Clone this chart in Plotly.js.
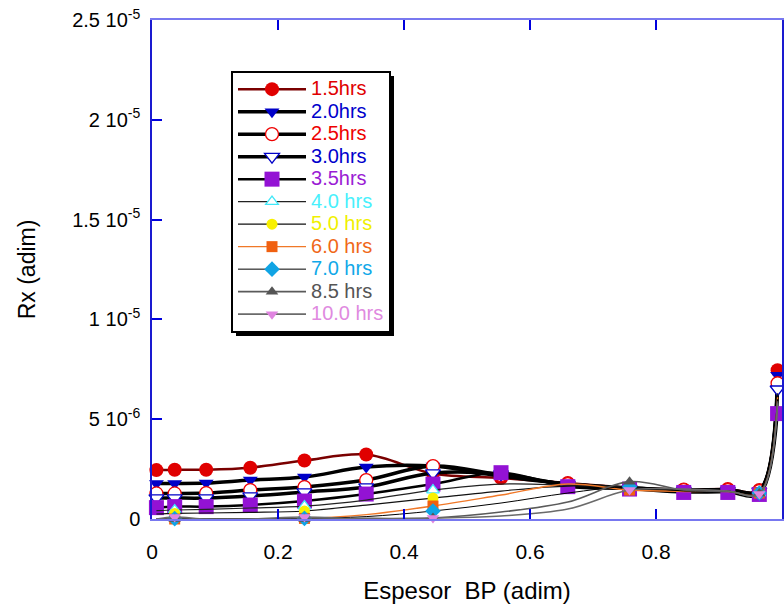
<!DOCTYPE html>
<html>
<head>
<meta charset="utf-8">
<script src="https://cdn.plot.ly/plotly-3.0.1.min.js"></script>
<style>
  html, body { margin: 0; padding: 0; background: #ffffff; }
  #chart { width: 784px; height: 609px; }
</style>
</head>
<body>
<div id="chart"></div>
<script>
// Dimensionless position across the BP layer (collocation nodes)
const espesor = [0.007, 0.036, 0.086, 0.156, 0.242, 0.340, 0.446, 0.554, 0.660, 0.758, 0.844, 0.914, 0.964, 0.993];

// Rx profiles at each time, in units of 1e-6
const rx_1_5h  = [2.45, 2.47, 2.47, 2.57, 2.93, 3.23, 2.28, 2.05, 1.80, 1.57, 1.48, 1.50, 1.45, 7.45];
const rx_2_0h  = [1.78, 1.78, 1.80, 1.95, 2.10, 2.60, 2.65, 2.15, 1.75, 1.55, 1.45, 1.48, 1.43, 7.20];
const rx_2_5h  = [1.28, 1.28, 1.30, 1.45, 1.60, 1.95, 2.65, 2.20, 1.75, 1.55, 1.45, 1.45, 1.40, 6.80];
const rx_3_0h  = [1.05, 1.05, 1.05, 1.15, 1.35, 1.60, 2.30, 2.25, 1.72, 1.52, 1.42, 1.42, 1.38, 6.50];
const rx_3_5h  = [0.57, 0.62, 0.62, 0.70, 0.90, 1.25, 1.75, 2.32, 1.62, 1.50, 1.33, 1.33, 1.23, 5.28];
const rx_4_0h  = [0.42, 0.45, 0.48, 0.55, 0.65, 0.95, 1.45, 1.75, 1.70, 1.60, 1.42, 1.40, 1.30, 6.30];
const rx_5_0h  = [0.25, 0.28, 0.30, 0.33, 0.40, 0.70, 1.05, 1.40, 1.65, 1.55, 1.40, 1.40, 1.30, 6.20];
const rx_6_0h  = [0.00, 0.00, 0.01, 0.02, 0.03, 0.22, 0.65, 1.20, 1.75, 1.45, 1.38, 1.38, 1.30, 6.10];
const rx_7_0h  = [0.00, 0.02, 0.02, 0.02, 0.03, 0.12, 0.40, 0.80, 1.30, 1.62, 1.40, 1.38, 1.30, 6.00];
const rx_8_5h  = [0.00, 0.00, 0.00, 0.00, 0.00, 0.03, 0.05, 0.35, 0.85, 1.87, 1.45, 1.38, 1.28, 5.90];
const rx_10_0h = [0.00, 0.10, 0.00, 0.00, 0.10, 0.00, 0.05, 0.15, 0.50, 1.45, 1.50, 1.40, 1.25, 5.80];

const seriesLabels = ['1.5hrs', '2.0hrs', '2.5hrs', '3.0hrs', '3.5hrs',
                      '4.0 hrs', '5.0 hrs', '6.0 hrs', '7.0 hrs', '8.5 hrs', '10.0 hrs'];

const yTickVals = [0, 5e-6, 1e-5, 1.5e-5, 2e-5, 2.5e-5];
const yTickText = ['0', '5 10<sup>-6</sup>', '1 10<sup>-5</sup>', '1.5 10<sup>-5</sup>',
                   '2 10<sup>-5</sup>', '2.5 10<sup>-5</sup>'];

const UNIT = 1e-6;
const FONT = 'Liberation Sans, Arial, sans-serif';

// Appearance of each series (line, marker, legend text colour)
const styles = [
  { line: '#7a0000', lw: 2.5, sym: 'circle',        mc: '#e00000', fill: '#e00000', ms: 14, text: '#e00000' },
  { line: '#000000', lw: 3.5, sym: 'triangle-down', mc: '#0000c8', fill: '#0000c8', ms: 13, text: '#0000cc' },
  { line: '#000000', lw: 3.5, sym: 'circle',        mc: '#ee0000', fill: '#ffffff', ms: 13, text: '#ee0000' },
  { line: '#000000', lw: 3.5, sym: 'triangle-down', mc: '#0000c8', fill: '#ffffff', ms: 13, text: '#0000cc' },
  { line: '#000000', lw: 2.5, sym: 'square',        mc: '#9312d4', fill: '#9312d4', ms: 15, text: '#9a1cd4' },
  { line: '#222222', lw: 1.2, sym: 'triangle-up',   mc: '#40e8f8', fill: '#ffffff', ms: 11, text: '#48f0fc', sparse: true },
  { line: '#111111', lw: 1.2, sym: 'circle',        mc: '#f8f000', fill: '#f8f000', ms: 11, text: '#f0f000', sparse: true },
  { line: '#f07828', lw: 1.4, sym: 'square',        mc: '#f06010', fill: '#f06010', ms: 11, text: '#f06818', sparse: true },
  { line: '#000000', lw: 1.0, sym: 'diamond',       mc: '#10a4e4', fill: '#10a4e4', ms: 12, text: '#10a8e8', sparse: true },
  { line: '#5a5a5a', lw: 1.6, sym: 'triangle-up',   mc: '#555555', fill: '#555555', ms: 11, text: '#555555', sparse: true },
  { line: '#6a6a6a', lw: 1.6, sym: 'triangle-down', mc: '#e084e0', fill: '#e084e0', ms: 11, text: '#e08ae0', sparse: true }
];
// Later profiles only carry a symbol every few nodes
const sparseNodes = [1, 4, 6, 9, 12];

const profiles = [rx_1_5h, rx_2_0h, rx_2_5h, rx_3_0h, rx_3_5h, rx_4_0h,
                  rx_5_0h, rx_6_0h, rx_7_0h, rx_8_5h, rx_10_0h];

const traces = profiles.map((vals, i) => {
  const s = styles[i];
  const t = {
    type: 'scatter',
    mode: 'lines+markers',
    x: espesor,
    y: vals.map(v => v * UNIT),
    name: '<span style="font-size:20px;color:' + s.text + '">' + seriesLabels[i] + '</span>',
    cliponaxis: false,
    line: { color: s.line, width: s.lw, shape: 'spline', smoothing: 1 },
    marker: {
      symbol: s.sym, size: s.ms, color: s.fill,
      line: { color: s.mc, width: s.fill === '#ffffff' ? 1.3 : 0 }
    }
  };
  if (s.sparse) {
    t.selectedpoints = sparseNodes;
    t.unselected = { marker: { opacity: 0 } };
  }
  return t;
});

const L = 152, R = 2, T = 20, B = 90, W = 784, H = 609;

const layout = {
  width: W, height: H,
  margin: { l: L, r: R, t: T, b: B },
  paper_bgcolor: '#ffffff', plot_bgcolor: '#ffffff',
  font: { family: FONT, color: '#000000' },
  showlegend: true,
  legend: {
    x: 0.1254, y: 0.898, xanchor: 'left', yanchor: 'top',
    bgcolor: '#ffffff', bordercolor: '#000000', borderwidth: 2,
    font: { family: FONT, size: 15, color: '#000000' },
    itemwidth: 68, traceorder: 'normal'
  },
  xaxis: {
    range: [0, 1], tick0: 0, dtick: 0.2,
    showgrid: false, zeroline: false,
    showline: true, linecolor: '#7878f0', linewidth: 2, mirror: 'ticks',
    ticks: 'inside', ticklen: 10, tickwidth: 1.5, tickcolor: '#0000dd',
    ticklabelstandoff: 13,
    tickfont: { family: FONT, size: 21, color: '#000000' },
    title: { text: 'Espesor  BP (adim)', font: { family: FONT, size: 24 }, standoff: 20 }
  },
  yaxis: {
    range: [0, 2.5e-5],
    tickmode: 'array', tickvals: yTickVals, ticktext: yTickText,
    showgrid: false, zeroline: false,
    showline: true, linecolor: '#1a1ad0', linewidth: 1.5, mirror: true,
    ticks: 'inside', ticklen: 10, tickwidth: 1.5, tickcolor: '#0000dd',
    ticklabelstandoff: 6,
    tickfont: { family: FONT, size: 20, color: '#000000' },
    title: { text: 'Rx (adim)', font: { family: FONT, size: 23 }, standoff: 30 }
  }
};

const gd = document.getElementById('chart');
Plotly.newPlot(gd, traces, layout, { displayModeBar: false }).then(() => {
  // Drop shadow behind the legend box
  const bg = gd.querySelector('.legend .bg');
  if (!bg) return;
  const r = bg.getBoundingClientRect();
  const g = gd.getBoundingClientRect();
  const pw = W - L - R, ph = H - T - B;
  const off = 4;
  const toX = px => (px - g.left - L) / pw;
  const toY = py => (H - B - (py - g.top)) / ph;
  return Plotly.relayout(gd, {
    shapes: [{
      type: 'rect', xref: 'paper', yref: 'paper', layer: 'above',
      x0: toX(r.left + off), x1: toX(r.right + off),
      y0: toY(r.bottom + off), y1: toY(r.top + off),
      fillcolor: '#000000', line: { width: 0 }
    }]
  });
});
</script>
</body>
</html>
